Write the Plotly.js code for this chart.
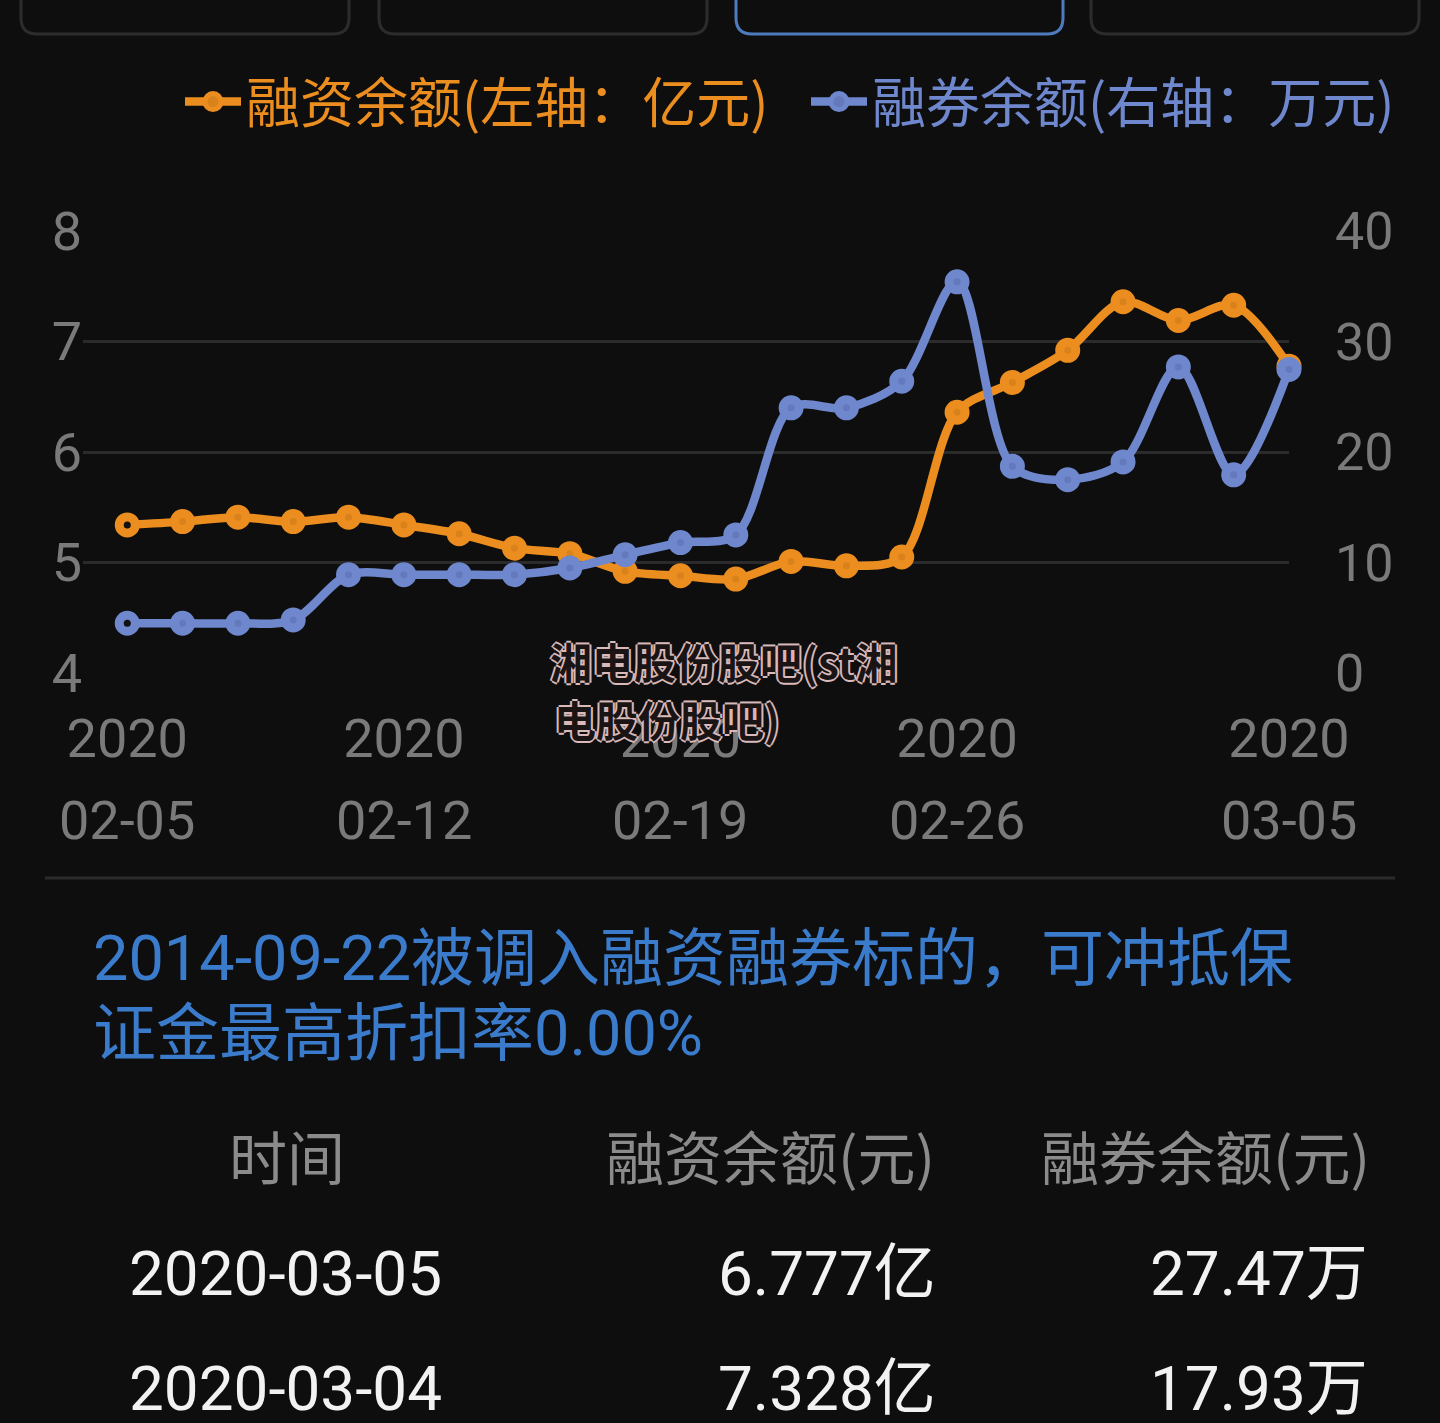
<!DOCTYPE html>
<html>
<head>
<meta charset="utf-8">
<script src="https://cdn.plot.ly/plotly-3.0.1.min.js"></script>
<style>
html,body{margin:0;padding:0;background:#0e0e0e;}
#chart{width:1440px;height:1423px;}
</style>
</head>
<body>
<div id="chart"></div>
<script>
// ---------- data ----------
const dates = ['2020-02-05','2020-02-06','2020-02-07','2020-02-10','2020-02-11','2020-02-12',
  '2020-02-13','2020-02-14','2020-02-17','2020-02-18','2020-02-19','2020-02-20','2020-02-21',
  '2020-02-24','2020-02-25','2020-02-26','2020-02-27','2020-02-28','2020-03-02','2020-03-03',
  '2020-03-04','2020-03-05'];
const financing = [5.34,5.37,5.41,5.37,5.41,5.34,5.26,5.13,5.08,4.92,4.88,4.85,5.01,4.97,5.05,
  6.36,6.63,6.92,7.36,7.19,7.328,6.777];          // 亿元, left axis
const securities = [4.5,4.5,4.5,4.8,8.9,8.9,8.9,8.9,9.5,10.7,11.8,12.5,24.0,24.0,26.4,
  35.4,18.7,17.5,19.1,27.7,17.93,27.47];           // 万元, right axis
const tickDates = ['2020-02-05','2020-02-12','2020-02-19','2020-02-26','2020-03-05'];
const leftTicks = [4,5,6,7,8];
const rightTicks = [0,10,20,30,40];
const seriesNames = ['融资余额(左轴：亿元)','融券余额(右轴：万元)'];
const noteLines = ['2014-09-22被调入融资融券标的，可冲抵保','证金最高折扣率0.00%'];
const tableHeaders = ['时间','融资余额(元)','融券余额(元)'];
const watermarkLines = ['湘电股份股吧(st湘','电股份股吧)'];

// ---------- styling ----------
const ORANGE = '#eb8e1f', ORANGE_IN = '#d9821b';
const BLUE = '#6e87cd', BLUE_IN = '#6479bb';
const BG = '#0e0e0e';
const GRAY = '#7a7a7a';
const NUMFONT = 'Roboto, "Noto Sans CJK SC", sans-serif';
const CJKFONT = '"Noto Sans CJK SC", Roboto, sans-serif';

// plot-area pixel box
const L = 83, R = 1289, T = 231, B = 673;
const px = X => (X - L) / (R - L);
const py = Y => (B - Y) / (B - T);
const n = dates.length;

const traces = [
  {
    x: dates, y: securities, yaxis: 'y2', type: 'scatter', mode: 'lines+markers',
    name: '<span style="color:' + BLUE + '">' + seriesNames[1] + '</span>',
    legend: 'legend2',
    line: {color: BLUE, width: 8.5, shape: 'spline', smoothing: 0.9},
    marker: {size: 16, color: BLUE_IN, line: {color: BLUE, width: 9}},
    cliponaxis: false
  },
  {
    x: dates, y: financing, yaxis: 'y', type: 'scatter', mode: 'lines+markers',
    name: '<span style="color:' + ORANGE + '">' + seriesNames[0] + '</span>',
    legend: 'legend',
    line: {color: ORANGE, width: 8.5, shape: 'spline', smoothing: 0.9},
    marker: {size: 16, color: ORANGE_IN, line: {color: ORANGE, width: 9}},
    cliponaxis: false
  },
  // highlighted end points (dark centre)
  {
    x: [dates[0]], y: [securities[0]], yaxis: 'y2', type: 'scatter', mode: 'markers',
    showlegend: false, marker: {size: 7, color: '#111'}, cliponaxis: false
  },
  {
    x: [dates[0], dates[n-1]], y: [financing[0], financing[n-1]], yaxis: 'y', type: 'scatter', mode: 'markers',
    showlegend: false, marker: {size: 7, color: '#111'}, cliponaxis: false
  }
];

const annotations = [];
// second line of x tick labels (MM-DD)
tickDates.forEach(d => annotations.push({
  x: d, xref: 'x', y: py(820), yref: 'paper', text: d.slice(5), showarrow: false,
  xanchor: 'center', yanchor: 'middle', font: {family: NUMFONT, size: 54, color: GRAY}
}));
// watermark
watermarkLines.forEach((t, i) => annotations.push({
  x: px(i === 0 ? 548 : 552), xref: 'paper', y: py(i === 0 ? 660 : 718), yref: 'paper',
  text: t, showarrow: false, xanchor: 'left', yanchor: 'middle',
  font: {family: CJKFONT, size: 42, weight: 700, color: '#1a1414',
         shadow: '2px 0 0 #d9b9b9, -2px 0 0 #d9b9b9, 0 2px 0 #d9b9b9, 0 -2px 0 #d9b9b9'}
}));
// note
noteLines.forEach((t, i) => annotations.push({
  x: px(91), xref: 'paper', y: py(i === 0 ? 958 : 1033), yref: 'paper', text: t, showarrow: false,
  xanchor: 'left', yanchor: 'middle', font: {family: NUMFONT, size: 63, color: '#3b7bcb'}
}));
// table header
const hf = {family: CJKFONT, size: 58, color: '#8b8b8b'};
annotations.push({x: px(287), xref: 'paper', y: py(1155), yref: 'paper', text: tableHeaders[0],
  showarrow: false, xanchor: 'center', yanchor: 'middle', font: hf});
annotations.push({x: px(937), xref: 'paper', y: py(1155), yref: 'paper', text: tableHeaders[1],
  showarrow: false, xanchor: 'right', yanchor: 'middle', font: hf});
annotations.push({x: px(1372), xref: 'paper', y: py(1155), yref: 'paper', text: tableHeaders[2],
  showarrow: false, xanchor: 'right', yanchor: 'middle', font: hf});
// table rows: latest two days
[n-1, n-2].forEach((idx, r) => {
  const Y = r === 0 ? 1273 : 1388;
  const f = {family: NUMFONT, size: 62, color: '#f2f2f2'};
  annotations.push({x: px(127), xref: 'paper', y: py(Y), yref: 'paper', text: dates[idx],
    showarrow: false, xanchor: 'left', yanchor: 'middle', font: f});
  annotations.push({x: px(938), xref: 'paper', y: py(Y), yref: 'paper', text: financing[idx].toFixed(3) + '亿',
    showarrow: false, xanchor: 'right', yanchor: 'middle', font: f});
  annotations.push({x: px(1370), xref: 'paper', y: py(Y), yref: 'paper', text: securities[idx].toFixed(2) + '万',
    showarrow: false, xanchor: 'right', yanchor: 'middle', font: f});
});

// shapes: top tabs and separator
function tabPath(a, b, yb, r) {
  const top = -20;
  return 'M' + px(a) + ',' + py(top) + ' L' + px(a) + ',' + py(yb - r) +
    ' Q' + px(a) + ',' + py(yb) + ' ' + px(a + r) + ',' + py(yb) +
    ' L' + px(b - r) + ',' + py(yb) +
    ' Q' + px(b) + ',' + py(yb) + ' ' + px(b) + ',' + py(yb - r) +
    ' L' + px(b) + ',' + py(top);
}
const tabs = [[21,349,'#2c2c2c'],[379,707,'#2c2c2c'],[736,1063,'#4d7bbd'],[1091,1419,'#2c2c2c']];
const shapes = tabs.map(t => ({type: 'path', xref: 'paper', yref: 'paper', path: tabPath(t[0], t[1], 34, 16),
  line: {color: t[2], width: 3}, fillcolor: 'rgba(0,0,0,0)'}));
shapes.push({type: 'line', xref: 'paper', yref: 'paper', x0: px(45), x1: px(1395), y0: py(878), y1: py(878),
  line: {color: '#2a2a2a', width: 3}});

const legendBase = {
  orientation: 'h', xref: 'container', yref: 'container',
  y: 1 - 102 / 1423, xanchor: 'left', yanchor: 'middle',
  font: {family: CJKFONT, size: 54, color: '#ccc'},
  bgcolor: 'rgba(0,0,0,0)', itemwidth: 56
};

const layout = {
  width: 1440, height: 1423,
  margin: {l: L, r: 1440 - R, t: T, b: 1423 - B, pad: 0},
  paper_bgcolor: BG, plot_bgcolor: BG,
  hovermode: false,
  showlegend: true,
  legend: Object.assign({}, legendBase, {x: 180 / 1440}),
  legend2: Object.assign({}, legendBase, {x: 806 / 1440}),
  xaxis: {
    type: 'category', range: [-0.8, n - 1], tickmode: 'array', tickvals: tickDates,
    ticktext: tickDates.map(d => d.slice(0, 4)), showgrid: false, zeroline: false, showline: false,
    ticks: '', tickfont: {family: NUMFONT, size: 54, color: GRAY}, ticklabelstandoff: 29, fixedrange: true
  },
  yaxis: {
    range: [4, 8], tickmode: 'array', tickvals: leftTicks, showgrid: true, gridcolor: '#2b2b2b', gridwidth: 3,
    zeroline: false, showline: false, ticks: '', tickfont: {family: NUMFONT, size: 54, color: GRAY}, fixedrange: true
  },
  yaxis2: {
    range: [0, 40], overlaying: 'y', side: 'right', tickmode: 'array', tickvals: rightTicks, showgrid: false,
    zeroline: false, showline: false, ticks: '', tickfont: {family: NUMFONT, size: 52, color: GRAY},
    ticklabelstandoff: 45, fixedrange: true
  },
  annotations: annotations,
  shapes: shapes
};

Plotly.newPlot('chart', traces, layout, {displayModeBar: false, staticPlot: true});
</script>
</body>
</html>
